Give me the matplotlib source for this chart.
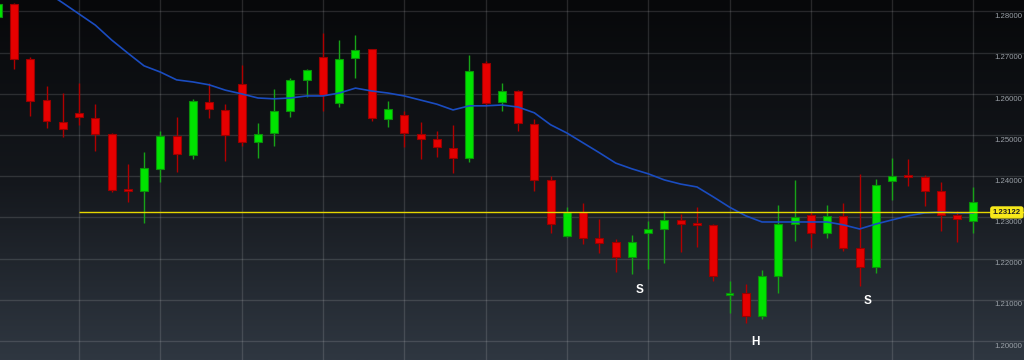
import numpy as np
import matplotlib.pyplot as plt
from matplotlib.colors import LinearSegmentedColormap

# OHLC, one entry per candle
opens = [1.2787, 1.2818, 1.2685, 1.2585, 1.2532, 1.2554, 1.2541, 1.2503, 1.2368, 1.2364,
         1.2418, 1.2498, 1.2452, 1.2580, 1.2561, 1.2624, 1.2483, 1.2505, 1.2559, 1.2634,
         1.2690, 1.2578, 1.2687, 1.2709, 1.2539, 1.2549, 1.2503, 1.2491, 1.2469, 1.2444,
         1.2675, 1.2580, 1.2607, 1.2527, 1.2391, 1.2255, 1.2313, 1.2250, 1.2240, 1.2204,
         1.2262, 1.2272, 1.2294, 1.2284, 1.2282, 1.2112, 1.2117, 1.2061, 1.2158, 1.2284,
         1.2306, 1.2262, 1.2304, 1.2226, 1.2180, 1.2388, 1.2401, 1.2398, 1.2364, 1.2306,
         1.2291]
highs = [1.2823, 1.2821, 1.2690, 1.2619, 1.2602, 1.2626, 1.2575, 1.2505, 1.2430, 1.2459,
         1.2510, 1.2544, 1.2588, 1.2626, 1.2575, 1.2670, 1.2529, 1.2612, 1.2639, 1.2660,
         1.2748, 1.2731, 1.2743, 1.2709, 1.2583, 1.2558, 1.2532, 1.2510, 1.2525, 1.2694,
         1.2680, 1.2626, 1.2609, 1.2539, 1.2401, 1.2326, 1.2335, 1.2296, 1.2248, 1.2257,
         1.2291, 1.2316, 1.2308, 1.2326, 1.2284, 1.2146, 1.2138, 1.2172, 1.2330, 1.2391,
         1.2313, 1.2330, 1.2335, 1.2406, 1.2393, 1.2444, 1.2442, 1.2403, 1.2386, 1.2316,
         1.2374]
lows = [1.2779, 1.2660, 1.2546, 1.2517, 1.2495, 1.2525, 1.2461, 1.2362, 1.2338, 1.2287,
        1.2386, 1.2410, 1.2442, 1.2541, 1.2437, 1.2473, 1.2444, 1.2473, 1.2544, 1.2592,
        1.2558, 1.2568, 1.2639, 1.2534, 1.2520, 1.2471, 1.2442, 1.2447, 1.2408, 1.2435,
        1.2571, 1.2558, 1.2510, 1.2364, 1.2262, 1.2252, 1.2236, 1.2214, 1.2168, 1.2163,
        1.2175, 1.2189, 1.2216, 1.2228, 1.2146, 1.2068, 1.2044, 1.2053, 1.2117, 1.2243,
        1.2226, 1.2250, 1.2219, 1.2134, 1.2165, 1.2342, 1.2376, 1.2328, 1.2267, 1.2240,
        1.2262]
closes = [1.2818, 1.2685, 1.2583, 1.2534, 1.2515, 1.2544, 1.2503, 1.2367, 1.2364, 1.2420,
          1.2498, 1.2454, 1.2583, 1.2563, 1.2500, 1.2483, 1.2503, 1.2559, 1.2634, 1.2658,
          1.2597, 1.2685, 1.2707, 1.2541, 1.2563, 1.2505, 1.2491, 1.2471, 1.2444, 1.2656,
          1.2578, 1.2607, 1.2529, 1.2391, 1.2284, 1.2313, 1.2250, 1.2238, 1.2204, 1.2240,
          1.2272, 1.2294, 1.2284, 1.2282, 1.2158, 1.2117, 1.2061, 1.2158, 1.2284, 1.2301,
          1.2262, 1.2304, 1.2226, 1.2180, 1.2379, 1.2401, 1.2398, 1.2364, 1.2306, 1.2296,
          1.2338]
# moving average (blue line)
ma = [1.2925, 1.2901, 1.2874, 1.2847, 1.2821, 1.2794, 1.2767, 1.2731, 1.2699, 1.2668,
      1.2653, 1.2634, 1.2629, 1.2622, 1.2609, 1.2600, 1.2590, 1.2588, 1.2590, 1.2595,
      1.2595, 1.2602, 1.2614, 1.2607, 1.2602, 1.2595, 1.2585, 1.2575, 1.2561, 1.2571,
      1.2571, 1.2573, 1.2568, 1.2554, 1.2525, 1.2505, 1.2481, 1.2457, 1.2432, 1.2418,
      1.2406, 1.2391, 1.2381, 1.2374, 1.2350, 1.2325, 1.2304, 1.2289, 1.2289, 1.2289,
      1.2289, 1.2289, 1.2282, 1.2272, 1.2284, 1.2294, 1.2304, 1.2311, 1.2313, 1.2311,
      1.2311]
price_ticks = [1.20, 1.21, 1.22, 1.23, 1.24, 1.25, 1.26, 1.27, 1.28]
current_price = 1.23122
pattern_labels = ['S', 'H', 'S']
pattern_x = [39.5, 46.6, 53.5]
pattern_y = [1.2124, 1.1998, 1.2097]

fig = plt.figure(figsize=(10.24, 3.6), dpi=100)
ax = fig.add_axes([0, 0, 1, 1])
ax.set_xlim(0.14, 63.11)
ax.set_ylim(1.19539, 1.28279)
ax.axis('off')

# background gradient, dark at the top
cmap = LinearSegmentedColormap.from_list('bg', ['#07080a', '#14171c', '#2f3741'])
grad = np.linspace(0, 1, 256).reshape(-1, 1)
ax.imshow(grad, cmap=cmap, aspect='auto', extent=[0, 1, 0, 1],
          transform=ax.transAxes, zorder=0)

# grid
for p in price_ticks:
    ax.axhline(p, color='white', alpha=0.13, lw=1, zorder=1)
for gx in range(5, 61, 5):
    ax.axvline(gx, color='white', alpha=0.13, lw=1, zorder=1)

x = np.arange(len(opens))
o = np.array(opens)
c = np.array(closes)
up = c >= o
body_lo = np.minimum(o, c)
body_h = np.maximum(np.abs(c - o), 0.0005)

ax.vlines(x[up], np.array(lows)[up], np.array(highs)[up], color='#17a317', lw=1, zorder=3)
ax.vlines(x[~up], np.array(lows)[~up], np.array(highs)[~up], color='#b00000', lw=1, zorder=3)
ax.bar(x[up], body_h[up], bottom=body_lo[up], width=0.49, color='#00e300',
       edgecolor='#0b8f0b', linewidth=0.8, zorder=4)
ax.bar(x[~up], body_h[~up], bottom=body_lo[~up], width=0.49, color='#e60000',
       edgecolor='#9a0000', linewidth=0.8, zorder=4)

ax.plot(x, ma, color='#1a4cc0', lw=1.2, zorder=5)
ax.hlines(current_price, 5, 63.11, color='#e6d600', lw=1, zorder=6)

# right price scale
for p in price_ticks:
    ax.annotate('%.5f' % p, xy=(0.998, p), xycoords=('axes fraction', 'data'),
                xytext=(0, -3.7), textcoords='offset points', ha='right', va='center',
                fontsize=5.6, color='#9ba1a8', family='Liberation Sans', zorder=7)
ax.annotate('%.5f' % current_price, xy=(0.997, current_price),
            xycoords=('axes fraction', 'data'), ha='right', va='center',
            fontsize=5.6, fontweight='bold', color='#202020', family='Liberation Sans',
            bbox=dict(boxstyle='round,pad=0.25', fc='#f7e81a', ec='#f7e81a'), zorder=8)

for lab, px, py in zip(pattern_labels, pattern_x, pattern_y):
    ax.text(px, py, lab, ha='center', va='center', fontsize=8.5, fontweight='bold',
            color='white', family='Liberation Sans', zorder=7)

fig.savefig('out.png', dpi=100)
